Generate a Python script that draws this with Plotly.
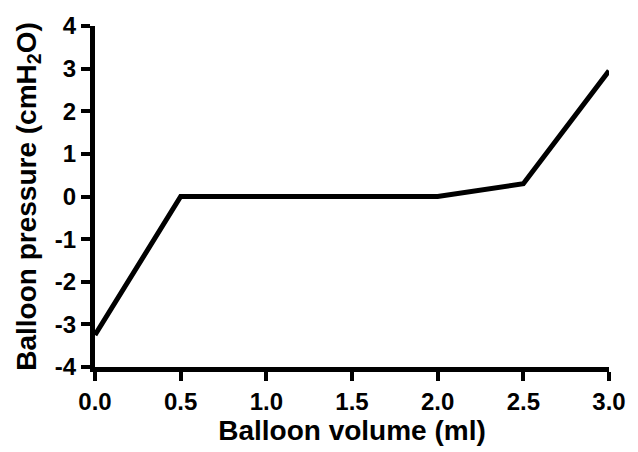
import plotly.graph_objects as go

volume_ml = [0.0, 0.5, 2.0, 2.5, 3.0]
pressure_cmh2o = [-3.25, 0.0, 0.0, 0.3, 2.95]

x_ticks = [0.0, 0.5, 1.0, 1.5, 2.0, 2.5, 3.0]
x_tick_labels = ["0.0", "0.5", "1.0", "1.5", "2.0", "2.5", "3.0"]
y_ticks = [-4, -3, -2, -1, 0, 1, 2, 3, 4]
y_tick_labels = ["-4", "-3", "-2", "-1", "0", "1", "2", "3", "4"]

font_family = "Liberation Sans, Arial, sans-serif"

fig = go.Figure()
fig.add_trace(go.Scatter(
    x=volume_ml, y=pressure_cmh2o, mode="lines",
    line=dict(color="black", width=5),
    cliponaxis=False,
))

fig.update_layout(
    width=638, height=452,
    margin=dict(l=95, r=19, t=18, b=85),
    paper_bgcolor="white", plot_bgcolor="white",
    showlegend=False,
)
for upd in (fig.update_xaxes, fig.update_yaxes):
    upd(showline=True, linecolor="black", linewidth=5,
        ticks="outside", ticklen=9, tickwidth=3.5, tickcolor="black",
        showgrid=False, zeroline=False,
        tickfont=dict(family=font_family, size=24, color="black", weight="bold"))

fig.update_xaxes(
    range=[0, 3], tickvals=x_ticks, ticktext=x_tick_labels,
    title=dict(text="<b>Balloon volume (ml)</b>", standoff=6,
               font=dict(family=font_family, size=28, color="black")),
)
fig.update_yaxes(
    range=[-4, 4], tickvals=y_ticks, ticktext=y_tick_labels,
    title=dict(text="<b>Balloon pressure (cmH<sub>2</sub>O)</b>", standoff=12,
               font=dict(family=font_family, size=28, color="black")),
)

fig.write_html("out.html")
